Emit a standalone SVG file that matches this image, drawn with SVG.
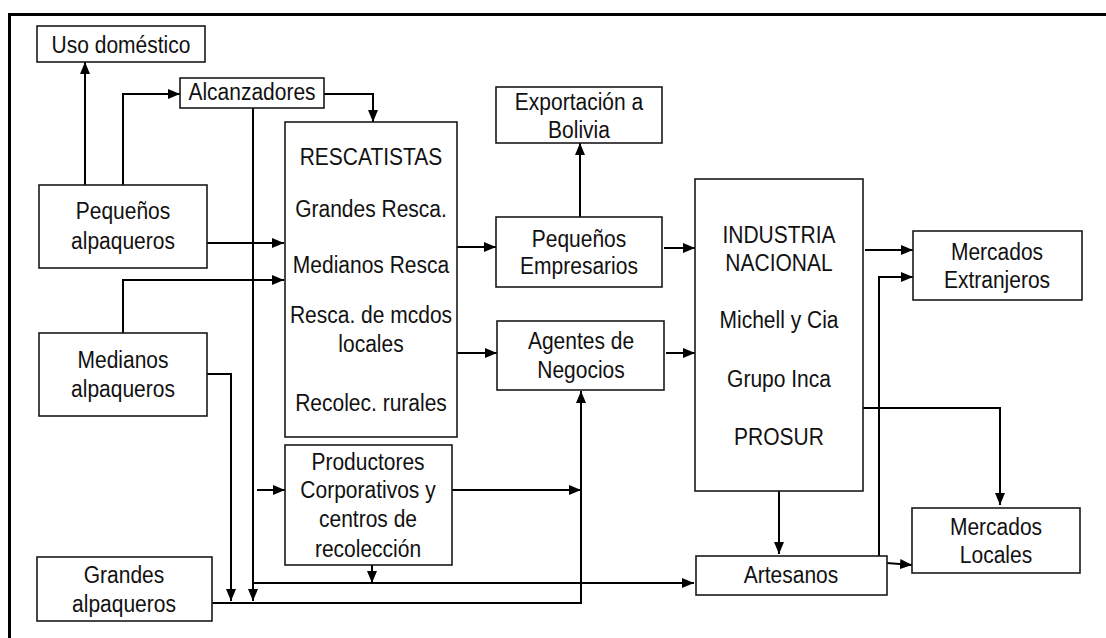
<svg xmlns="http://www.w3.org/2000/svg" width="1106" height="638" viewBox="0 0 1106 638">
<defs>
<marker id="ah" markerUnits="userSpaceOnUse" markerWidth="12" markerHeight="10" refX="12" refY="5" orient="auto">
<path d="M0,0 L12,5 L0,10 z" fill="#000"/>
</marker>
<style>
.box{fill:#fff;stroke:#1a1a1a;stroke-width:1.6}
.t{font-family:"Liberation Sans",Arial,sans-serif;font-size:21px;fill:#111;text-anchor:middle}
.c{fill:none;stroke:#000;stroke-width:2}
.a{marker-end:url(#ah)}
.frame{fill:none;stroke:#000;stroke-width:3}
</style>
</defs>
<rect width="1106" height="638" fill="#fff"/>
<path class="frame" d="M9.5,638 V14.5 H1106"/>

<g id="connectors">
<path class="c a" d="M85,185 V62"/>
<path class="c a" d="M123,185 V94 H180"/>
<path class="c a" d="M324,94 H373 V122"/>
<path class="c a" d="M253,108 V601"/>
<path class="c a" d="M207,243 H284"/>
<path class="c a" d="M123,333 V280 H284"/>
<path class="c a" d="M207,374 H231 V601"/>
<path class="c a" d="M212,603 H581 V391"/>
<path class="c a" d="M257,490 H285"/>
<path class="c a" d="M452,490 H581"/>
<path class="c a" d="M372,565 V583"/>
<path class="c a" d="M253,583 H694"/>
<path class="c a" d="M456,247 H496"/>
<path class="c a" d="M456,353 H497"/>
<path class="c a" d="M580,217 V143"/>
<path class="c a" d="M664,248 H695"/>
<path class="c a" d="M666,353 H695"/>
<path class="c a" d="M865,250 H913"/>
<path class="c a" d="M879,556 V277 H913"/>
<path class="c a" d="M863,408 H1000 V505"/>
<path class="c a" d="M779,491 V554"/>
<path class="c a" d="M887,563 L912,565"/>
</g>

<g id="uso"><rect class="box" x="37" y="26" width="168" height="36"/><text class="t" transform="translate(121,53) scale(1,1.1)">Uso doméstico</text></g>
<g id="alcanzadores"><rect class="box" x="180" y="78" width="144" height="30"/><text class="t" transform="translate(252,100) scale(1,1.1)">Alcanzadores</text></g>
<g id="pequenos-alp"><rect class="box" x="39" y="185" width="168" height="83"/><text class="t" transform="translate(123,219) scale(1,1.1)">Pequeños</text><text class="t" transform="translate(123,249) scale(1,1.1)">alpaqueros</text></g>
<g id="medianos-alp"><rect class="box" x="39" y="333" width="168" height="83"/><text class="t" transform="translate(123,368) scale(1,1.1)">Medianos</text><text class="t" transform="translate(123,397) scale(1,1.1)">alpaqueros</text></g>
<g id="grandes-alp"><rect class="box" x="37" y="557" width="175" height="64"/><text class="t" transform="translate(124,583) scale(1,1.1)">Grandes</text><text class="t" transform="translate(124,612) scale(1,1.1)">alpaqueros</text></g>
<g id="rescatistas"><rect class="box" x="285" y="122" width="172" height="315"/>
<text class="t" transform="translate(371,165) scale(1,1.1)">RESCATISTAS</text>
<text class="t" transform="translate(371,217) scale(1,1.1)">Grandes Resca.</text>
<text class="t" transform="translate(371,273) scale(1,1.1)">Medianos Resca</text>
<text class="t" transform="translate(371,323) scale(1,1.1)">Resca. de mcdos</text>
<text class="t" transform="translate(371,352) scale(1,1.1)">locales</text>
<text class="t" transform="translate(371,411) scale(1,1.1)">Recolec. rurales</text></g>
<g id="productores"><rect class="box" x="285" y="445" width="167" height="120"/>
<text class="t" transform="translate(368,470) scale(1,1.1)">Productores</text>
<text class="t" transform="translate(368,498) scale(1,1.1)">Corporativos y</text>
<text class="t" transform="translate(368,527) scale(1,1.1)">centros de</text>
<text class="t" transform="translate(368,557) scale(1,1.1)">recolección</text></g>
<g id="exportacion"><rect class="box" x="496" y="87" width="166" height="56"/><text class="t" transform="translate(579,110) scale(1,1.1)">Exportación a</text><text class="t" transform="translate(579,138) scale(1,1.1)">Bolivia</text></g>
<g id="pequenos-emp"><rect class="box" x="496" y="217" width="166" height="70"/><text class="t" transform="translate(579,247) scale(1,1.1)">Pequeños</text><text class="t" transform="translate(579,274) scale(1,1.1)">Empresarios</text></g>
<g id="agentes"><rect class="box" x="497" y="321" width="167" height="69"/><text class="t" transform="translate(581,349) scale(1,1.1)">Agentes de</text><text class="t" transform="translate(581,378) scale(1,1.1)">Negocios</text></g>
<g id="industria"><rect class="box" x="695" y="179" width="168" height="312"/>
<text class="t" transform="translate(779,243) scale(1,1.1)">INDUSTRIA</text>
<text class="t" transform="translate(779,271) scale(1,1.1)">NACIONAL</text>
<text class="t" transform="translate(779,328) scale(1,1.1)">Michell y Cia</text>
<text class="t" transform="translate(779,387) scale(1,1.1)">Grupo Inca</text>
<text class="t" transform="translate(779,445) scale(1,1.1)">PROSUR</text></g>
<g id="mercados-ext"><rect class="box" x="913" y="231" width="169" height="69"/><text class="t" transform="translate(997,260) scale(1,1.1)">Mercados</text><text class="t" transform="translate(997,288) scale(1,1.1)">Extranjeros</text></g>
<g id="mercados-loc"><rect class="box" x="912" y="508" width="168" height="65"/><text class="t" transform="translate(996,535) scale(1,1.1)">Mercados</text><text class="t" transform="translate(996,563) scale(1,1.1)">Locales</text></g>
<g id="artesanos"><rect class="box" x="696" y="556" width="191" height="39"/><text class="t" transform="translate(791,583) scale(1,1.1)">Artesanos</text></g>
</svg>
